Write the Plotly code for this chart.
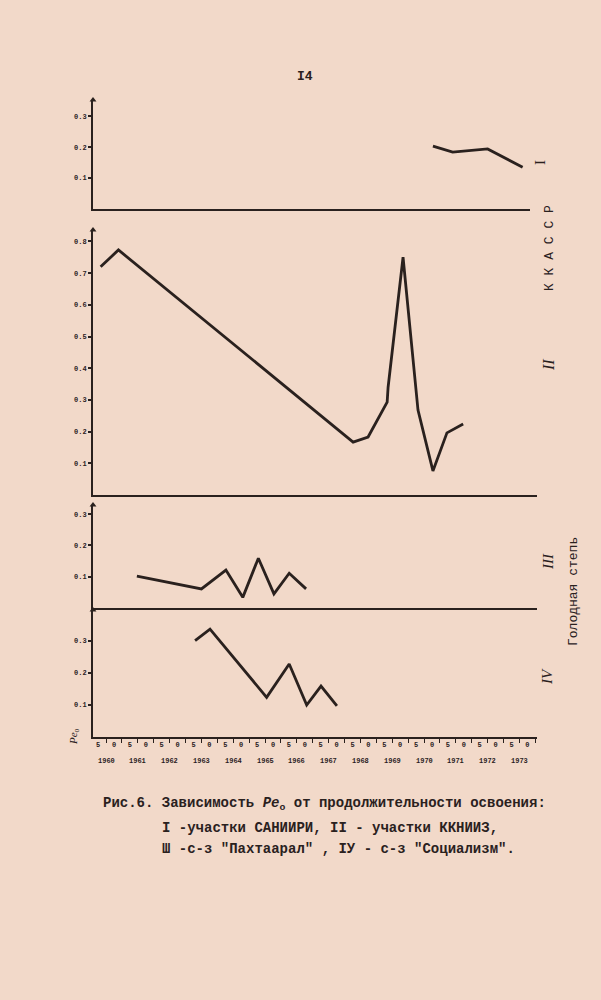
import plotly.graph_objects as go

# ---------------- data ----------------
years_I = [1970.28, 1970.9, 1972.0, 1973.1]
pe_I = [0.203, 0.184, 0.194, 0.135]

years_II = [1959.83, 1960.39, 1967.77, 1968.24, 1968.84, 1968.87, 1969.34,
            1969.81, 1970.28, 1970.72, 1971.23]
pe_II = [0.72, 0.773, 0.167, 0.183, 0.293, 0.34, 0.75, 0.268, 0.076, 0.196, 0.224]

years_III = [1960.97, 1963.0, 1963.77, 1964.3, 1964.79, 1965.28, 1965.76, 1966.29]
pe_III = [0.102, 0.061, 0.121, 0.034, 0.159, 0.045, 0.111, 0.061]

years_IV = [1962.8, 1963.27, 1965.05, 1965.76, 1966.31, 1966.76, 1967.26]
pe_IV = [0.301, 0.337, 0.124, 0.228, 0.10, 0.159, 0.097]

y_ticks_small = [0.1, 0.2, 0.3]
y_ticks_II = [0.1, 0.2, 0.3, 0.4, 0.5, 0.6, 0.7, 0.8]
year_labels = list(range(1960, 1974))
half_ticks = [1959.75 + 0.5 * k for k in range(28)]
half_text = ["5" if k % 2 == 0 else "0" for k in range(28)]

# ---------------- style ----------------
INK = "#2a211e"
PAPER = "#f2d9c9"
MONO = "Liberation Mono, DejaVu Sans Mono, monospace"
SERIF = "Liberation Serif, DejaVu Serif, serif"

W, H = 601, 1000
def px(x):
    return x / W
def py(y):
    return 1 - y / H

X0 = 1959.59
scale = 31.8  # px per year

fig = go.Figure()
panels = [
    ("", years_I, pe_I, 100, 209, 530, 0.352, y_ticks_small),
    ("2", years_II, pe_II, 230, 495, 537, 0.836, y_ticks_II),
    ("3", years_III, pe_III, 505, 608, 537, 0.329, y_ticks_small),
    ("4", years_IV, pe_IV, 610, 737, 537, 0.397, y_ticks_small),
]

for suf, xs, ys, top, base, right, ymax, yt in panels:
    fig.add_trace(go.Scatter(x=xs, y=ys, mode="lines", xaxis="x" + suf, yaxis="y" + suf,
                             line=dict(color=INK, width=2.8), showlegend=False,
                             hoverinfo="skip"))
    xr = [X0, X0 + (right - 93) / scale]
    # arrow tip at the top of the vertical axis (axis decoration)
    fig.add_trace(go.Scatter(x=[xr[0]], y=[ymax], mode="markers", xaxis="x" + suf,
                             yaxis="y" + suf, cliponaxis=False, showlegend=False,
                             hoverinfo="skip",
                             marker=dict(symbol="triangle-up", size=6, color=INK)))
    xa = dict(domain=[px(93), px(right)], range=xr, anchor="y" + suf,
              showline=True, linecolor=INK, linewidth=2, showgrid=False,
              zeroline=False, ticks="", showticklabels=False, tickvals=[],
              fixedrange=True)
    ya = dict(domain=[py(base), py(top)], range=[0, ymax], anchor="x" + suf,
              showline=True, linecolor=INK, linewidth=2, showgrid=False,
              zeroline=False, ticks="outside", ticklen=3, tickwidth=1.5,
              tickcolor=INK, tickvals=yt, ticktext=["%.1f" % v for v in yt],
              tickfont=dict(family=MONO, size=7, color=INK, weight="bold"),
              fixedrange=True)
    if suf == "4":
        xa.update(tickvals=half_ticks, ticktext=half_text, showticklabels=True,
                  ticks="", tickfont=dict(family=MONO, size=7, color=INK, weight="bold"),
                  minor=dict(tickvals=[1960 + 0.5 * k for k in range(28)], ticks="outside",
                             ticklen=4, tickwidth=1.2, tickcolor=INK))
    fig.layout["xaxis" + suf] = xa
    fig.layout["yaxis" + suf] = ya

ann = []
for yr in year_labels:
    ann.append(dict(x=yr, y=py(761), xref="x4", yref="paper", text=str(yr),
                    showarrow=False, xanchor="center", yanchor="middle",
                    font=dict(family=MONO, size=7, color=INK, weight="bold")))

def txt(x, y, t, size, family=MONO, angle=0, **kw):
    ann.append(dict(x=px(x), y=py(y), xref="paper", yref="paper", text=t, showarrow=False,
                    xanchor="center", yanchor="middle", textangle=angle,
                    font=dict(family=family, size=size, color=INK, **kw)))

txt(305, 77, "I4", 13, weight="bold")
txt(540, 163, "I", 15, family=SERIF, angle=-90)
txt(549, 248, "К К А С С Р", 13, angle=-90)
txt(548, 365, "<i>II</i>", 16, family=SERIF, angle=-90)
txt(548, 562, "<i>III</i>", 15, family=SERIF, angle=-90)
txt(573, 592, "Голодная степь", 13, angle=-90)
txt(547, 677, "<i>IV</i>", 15, family=SERIF, angle=-90)
txt(74, 737, "<i>Pe</i><sub>o</sub>", 11, family=SERIF, angle=-90)

cap = dict(family=MONO, size=14, color=INK, weight="bold")
ann.append(dict(x=px(101), y=py(804), xref="paper", yref="paper", xanchor="left",
                yanchor="middle",
                text="Рис.6. Зависимость <i>Pe</i><sub>o</sub> от продолжительности освоения:",
                showarrow=False, font=cap))
ann.append(dict(x=px(160), y=py(828), xref="paper", yref="paper", xanchor="left",
                yanchor="middle", text="I -участки САНИИРИ, II - участки ККНИИЗ,",
                showarrow=False, font=cap))
ann.append(dict(x=px(160), y=py(849), xref="paper", yref="paper", xanchor="left",
                yanchor="middle", text="Ш -с-з \"Пахтаарал\" , IУ - с-з \"Социализм\".",
                showarrow=False, font=cap))

for a in ann:
    fig.add_annotation(**a)

fig.update_layout(width=W, height=H, margin=dict(l=0, r=0, t=0, b=0),
                  paper_bgcolor=PAPER, plot_bgcolor="rgba(0,0,0,0)", showlegend=False)

fig.write_html("out.html", config={"displayModeBar": False},
               post_script="document.body.style.margin='0';"
                           "document.body.style.background='%s';" % PAPER)
